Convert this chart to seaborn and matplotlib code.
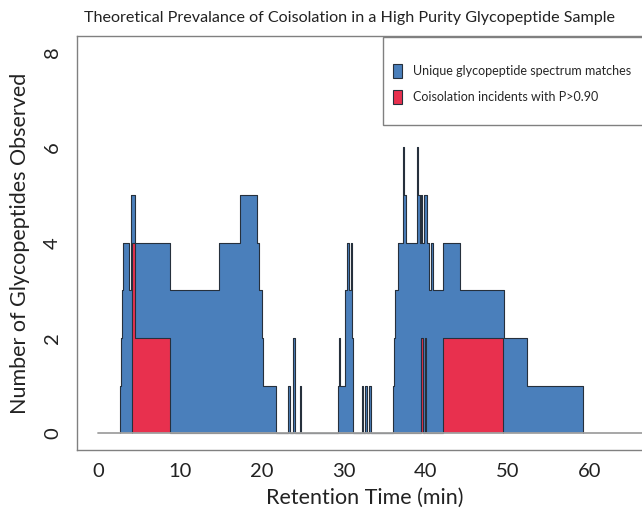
import numpy as np
import matplotlib.pyplot as plt
import seaborn as sns
from matplotlib.patches import Patch, Rectangle

# retention time (min) where the count changes, and the count from there on
blue_t = [2.65, 2.78, 2.92, 3.10, 3.85, 4.10, 4.55, 8.85, 14.8, 17.3, 19.4, 19.7, 20.0, 20.2, 21.7,
          23.2, 23.4, 23.8, 24.0, 24.6, 24.8,
          29.3, 29.4, 29.5, 30.15, 30.4, 30.65, 30.85, 31.0, 31.15,
          32.2, 32.4, 32.6, 32.8, 33.1, 33.35,
          36.0, 36.15, 36.3, 36.6, 37.2, 37.35, 37.65, 38.9, 39.1, 39.25, 39.4, 39.6, 39.8, 40.1,
          40.4, 40.7, 40.9, 42.1, 44.2, 49.5, 52.4, 59.2]
blue_n = [1, 2, 3, 4, 3, 5, 4, 3, 4, 5, 4, 3, 2, 1, 0,
          1, 0, 2, 0, 1, 0,
          1, 2, 1, 3, 4, 3, 4, 2, 0,
          1, 0, 1, 0, 1, 0,
          1, 2, 3, 4, 6, 5, 4, 6, 5, 4, 5, 4, 5, 4,
          3, 4, 3, 4, 3, 2, 1, 0]

red_t = [4.13, 4.54, 8.85, 39.4, 39.7, 39.95, 40.05, 42.1, 49.45]
red_n = [4, 2, 0, 2, 0, 2, 0, 2, 0]

blue = '#4a7fbb'
red = '#e8304e'
edge = '#26303c'
grey = '#808080'

sns.set_style('white')
plt.rcParams['font.family'] = ['Lato', 'DejaVu Sans']

fig = plt.figure(figsize=(6.42, 5.16), dpi=100)
ax = fig.add_axes([0.1192, 0.1279, 0.8964, 0.8023])


def draw_steps(t, n, fc):
    t = np.asarray(t, dtype=float)
    n = np.asarray(n, dtype=float)
    ax.fill_between(t, n, step='post', color=fc, linewidth=0)
    xs = np.concatenate([[t[0]], t])
    ys = np.concatenate([[0], n])
    sns.lineplot(x=xs, y=ys, drawstyle='steps-post', color=edge, linewidth=0.8,
                 estimator=None, sort=False, ax=ax)


draw_steps(blue_t, blue_n, blue)
draw_steps(red_t, red_n, red)

ax.plot([0, 70], [0, 0], color='#a0a0a0', linewidth=1.3, zorder=5)

ax.set_xlim(-2.6, 67.6)
ax.set_ylim(-0.35, 8.34)
ax.set_xticks(np.arange(0, 61, 10))
ax.set_yticks(np.arange(0, 9, 2))
ax.tick_params(axis='both', direction='out', length=5, width=1, color=grey,
               labelsize=14.5, labelcolor='#222222')
ax.tick_params(axis='x', pad=4)
ax.tick_params(axis='y', pad=6, labelrotation=90)
for lab in ax.get_yticklabels():
    lab.set_va('center')
for s in ['left', 'bottom', 'top']:
    ax.spines[s].set_color(grey)
    ax.spines[s].set_linewidth(1)
ax.spines['right'].set_visible(False)

ax.set_xlabel('Retention Time (min)', fontsize=15.5, color='#222222', labelpad=6)
ax.set_ylabel('Number of Glycopeptides Observed', fontsize=15.5, color='#222222', labelpad=10)
fig.text(350 / 642, 1 - 18 / 516, 'Theoretical Prevalance of Coisolation in a High Purity Glycopeptide Sample',
         ha='center', va='center', fontsize=11.6, color='#222222')

# legend frame and entries
fig.patches.append(Rectangle((382.7 / 642, 1 - 125 / 516), 0.5, 88.3 / 516, transform=fig.transFigure,
                             facecolor='white', edgecolor=grey, linewidth=1, zorder=6))
handles = [Patch(facecolor=blue, edgecolor=edge, linewidth=0.8),
           Patch(facecolor=red, edgecolor=edge, linewidth=0.8)]
leg = fig.legend(handles, ['Unique glycopeptide spectrum matches', 'Coisolation incidents with P>0.90'],
                 loc='upper left', bbox_to_anchor=(387 / 642, 1 - 58 / 516), frameon=False,
                 borderpad=0, handlelength=0.7, handleheight=1.3, handletextpad=0.85,
                 labelspacing=1.0, fontsize=9)
leg.set_zorder(7)

fig.savefig('out.png', dpi=100)
